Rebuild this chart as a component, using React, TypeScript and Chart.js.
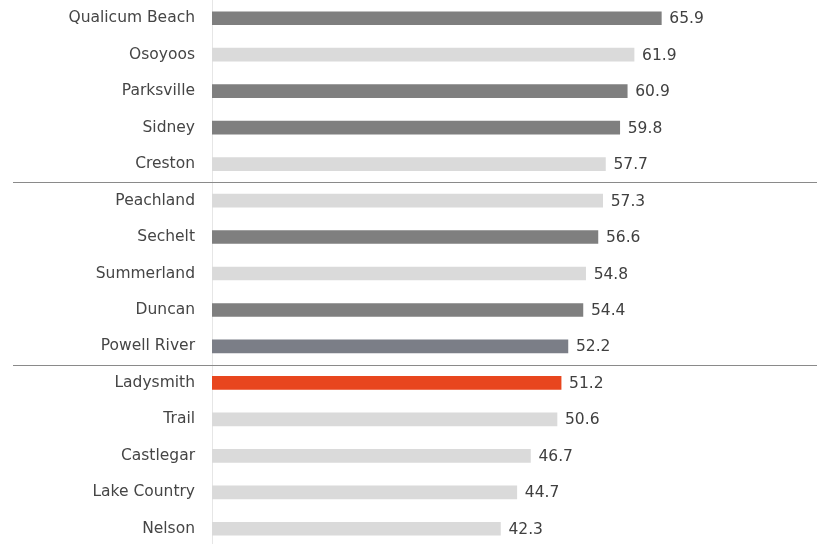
import React, { useEffect, useRef } from "react";
import { Chart, registerables } from "chart.js";

Chart.register(...registerables);

const categories = [
  "Qualicum Beach", "Osoyoos", "Parksville", "Sidney", "Creston",
  "Peachland", "Sechelt", "Summerland", "Duncan", "Powell River",
  "Ladysmith", "Trail", "Castlegar", "Lake Country", "Nelson",
];
const values = [65.9, 61.9, 60.9, 59.8, 57.7, 57.3, 56.6, 54.8, 54.4, 52.2, 51.2, 50.6, 46.7, 44.7, 42.3];
const barColors = [
  "#7f7f7f", "#dadada", "#7f7f7f", "#7f7f7f", "#dadada",
  "#dadada", "#7f7f7f", "#dadada", "#7f7f7f", "#7b7e87",
  "#e8461e", "#dadada", "#dadada", "#dadada", "#dadada",
];
const groupBreaks = [5, 10];

const FONT = "'DejaVu Sans', sans-serif";

const overlayPlugin = {
  id: "overlay",
  afterDatasetsDraw(chart: any) {
    const { ctx } = chart;
    const y = chart.scales.y;
    const meta = chart.getDatasetMeta(0);
    ctx.save();
    // separators
    ctx.strokeStyle = "#8a8a8a";
    ctx.lineWidth = 1;
    groupBreaks.forEach((b) => {
      const py = Math.round((y.getPixelForValue(b - 1) + y.getPixelForValue(b)) / 2) + 0.5;
      ctx.beginPath();
      ctx.moveTo(13, py);
      ctx.lineTo(chart.width, py);
      ctx.stroke();
    });
    // value labels
    ctx.fillStyle = "#404040";
    ctx.font = `15.5px ${FONT}`;
    ctx.textAlign = "left";
    ctx.textBaseline = "middle";
    meta.data.forEach((el: any, i: number) => {
      ctx.fillText(values[i].toFixed(1), el.x + 8, el.y + 1);
    });
    ctx.restore();
  },
};

export default function App() {
  const ref = useRef<HTMLCanvasElement>(null);
  useEffect(() => {
    const chart = new Chart(ref.current as HTMLCanvasElement, {
      type: "bar",
      data: {
        labels: categories,
        datasets: [
          {
            data: values,
            backgroundColor: barColors,
            barThickness: 13,
            borderWidth: 0,
          },
        ],
      },
      options: {
        indexAxis: "y",
        animation: false,
        responsive: false,
        devicePixelRatio: 1,
        layout: { padding: { left: 0, right: 5, top: 0, bottom: 0 } },
        plugins: { legend: { display: false }, tooltip: { enabled: false } },
        scales: {
          x: { display: false, min: 0, max: 88 },
          y: {
            grid: { display: false, drawTicks: false },
            border: { display: true, color: "#e6e6e6", width: 1 },
            ticks: {
              color: "#454545",
              font: { family: FONT, size: 15.5 },
              padding: 17,
            },
            afterFit(scale: any) {
              scale.width = 212;
              scale.paddingTop = 0;
              scale.paddingBottom = 0;
            },
          },
        },
      },
      plugins: [overlayPlugin],
    });
    return () => chart.destroy();
  }, []);
  return (
    <div style={{ position: "fixed", left: 0, top: 0, width: 817, height: 544, overflow: "hidden", background: "#fff" }}>
      <canvas ref={ref} width={817} height={547} />
    </div>
  );
}
